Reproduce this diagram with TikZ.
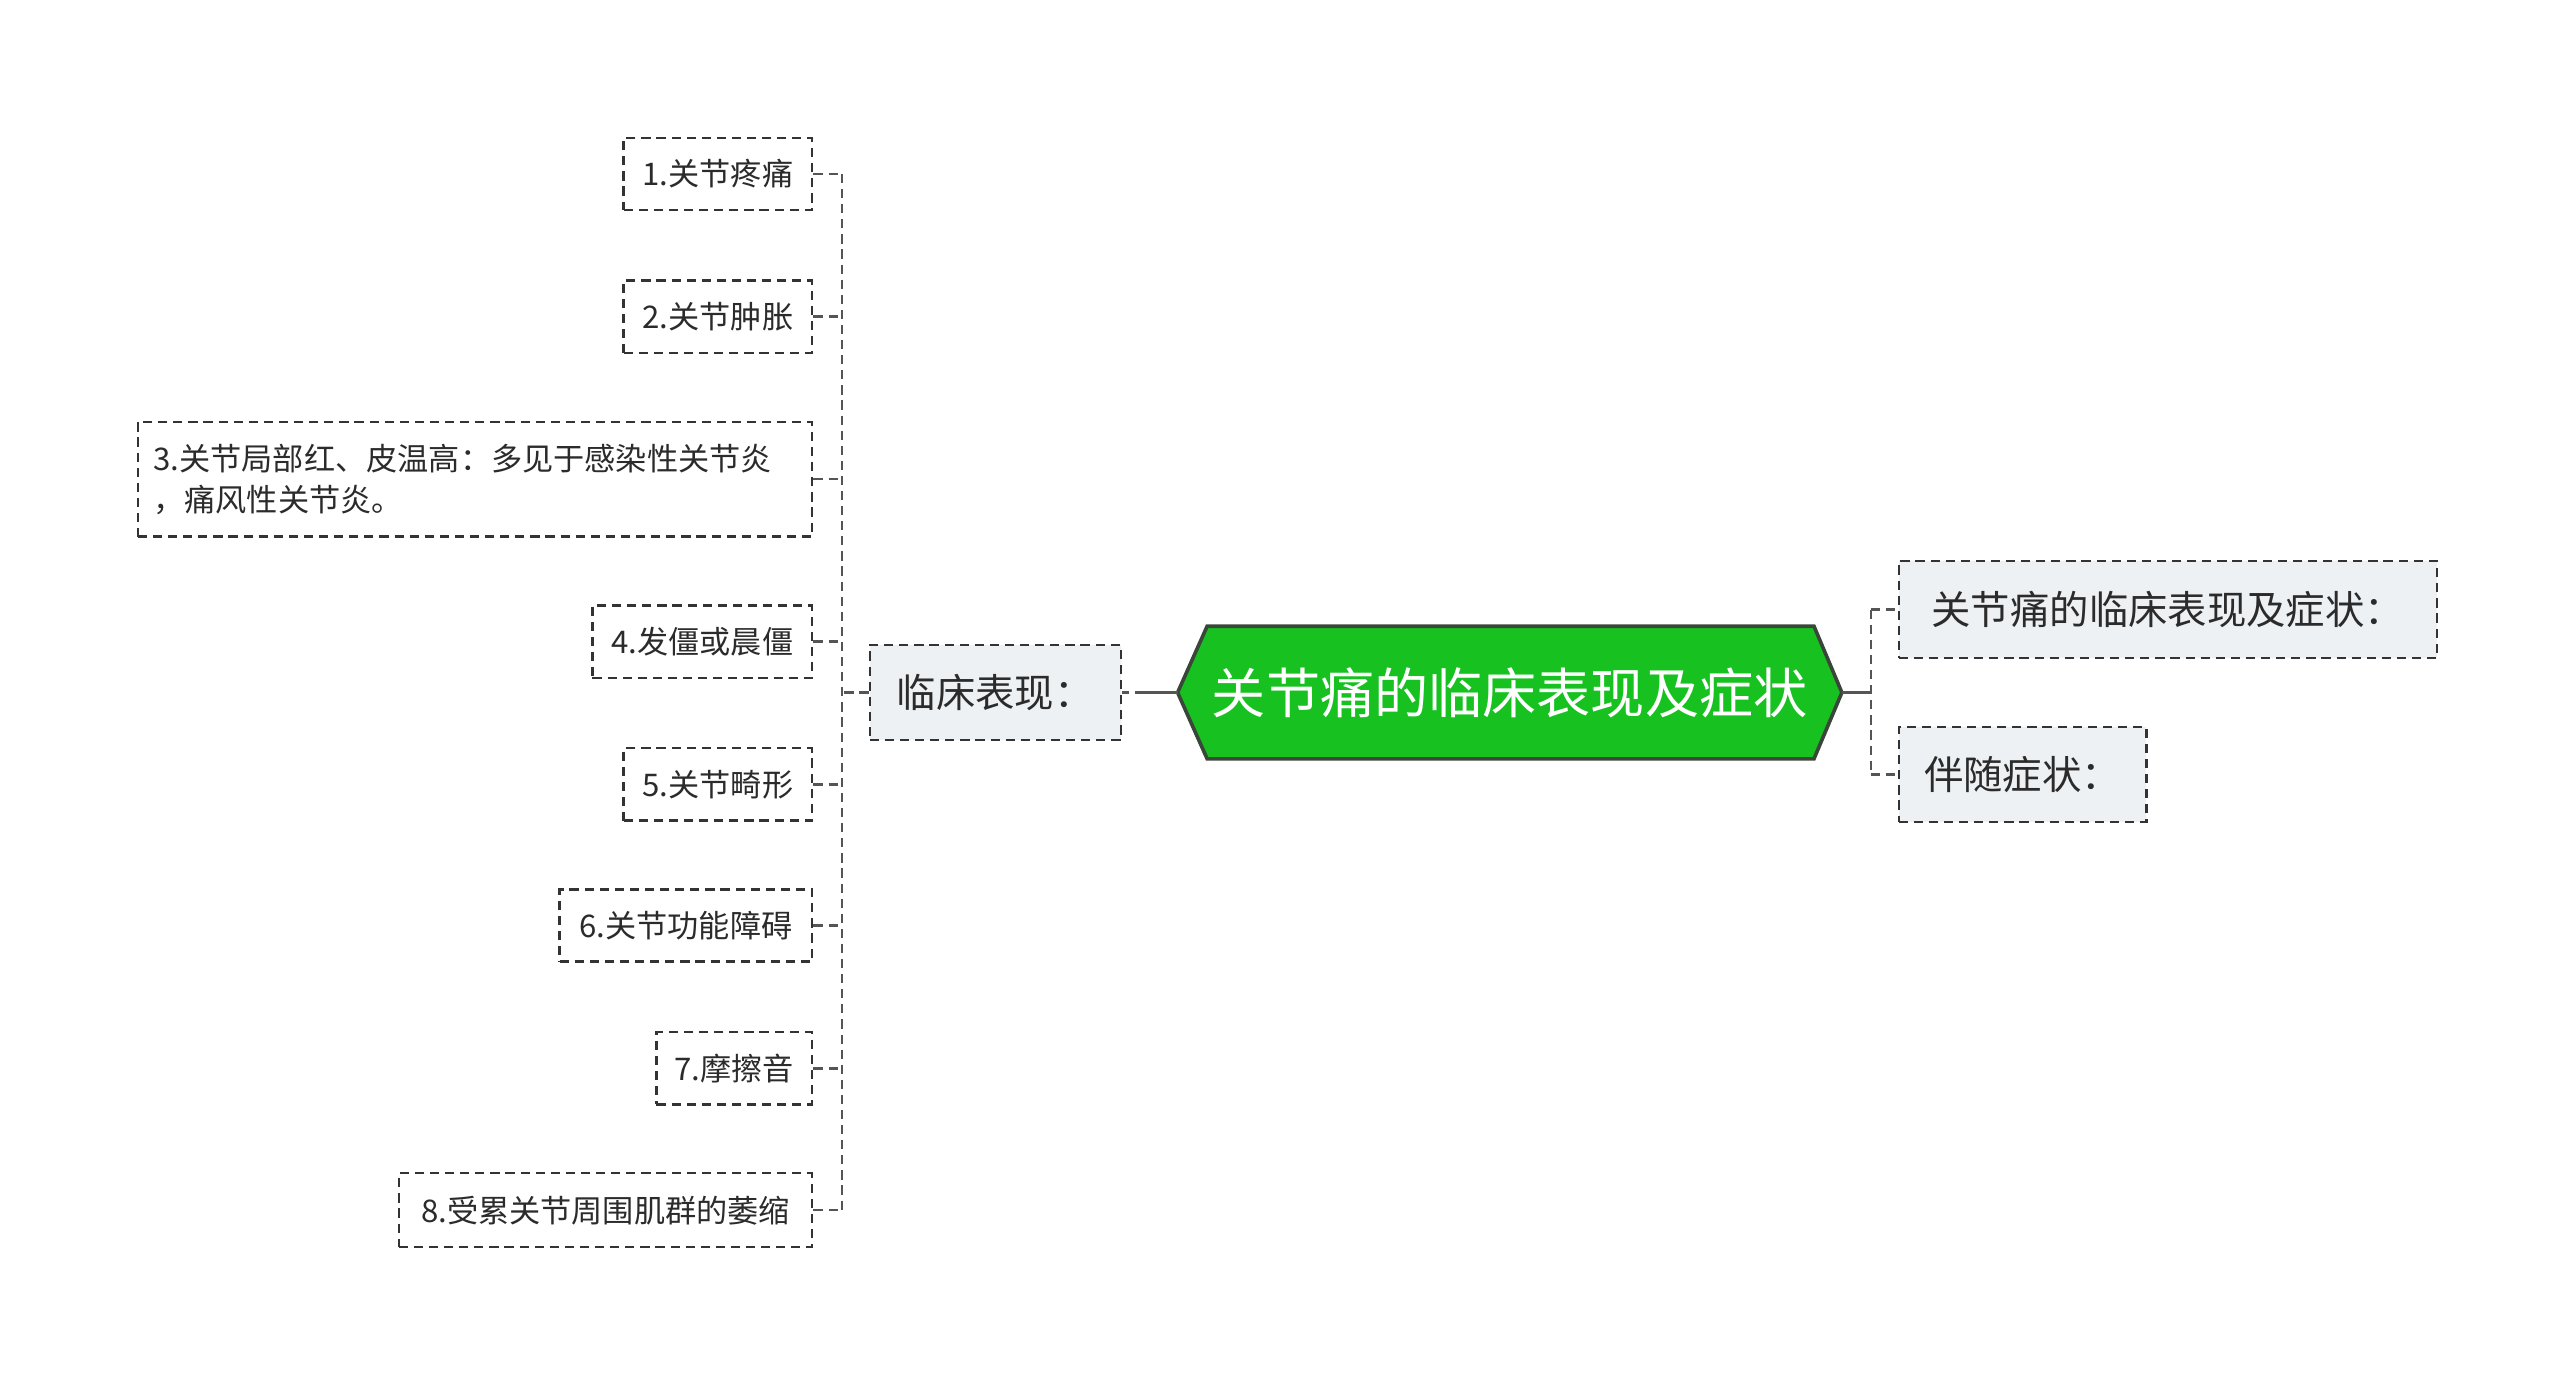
\documentclass[tikz,border=0pt]{standalone}
\usepackage{fontspec}
\newfontfamily\cjk{Noto Sans CJK SC}
\usetikzlibrary{calc}
\definecolor{rootgreen}{HTML}{17C220}
\definecolor{rootedge}{HTML}{3A463A}
\definecolor{boxfill}{HTML}{EEF1F4}
\definecolor{edgegray}{HTML}{333333}
\definecolor{linegray}{HTML}{555555}
\definecolor{txt}{HTML}{2B2B2B}
\begin{document}
\begin{tikzpicture}[x=0.5pt,y=-0.5pt,
  dsh/.style={dash pattern=on 2.8pt off 1.8pt},
  subbox/.style={draw=edgegray, line width=0.7pt, dsh, fill=boxfill, inner sep=2pt,
     font=\cjk\fontsize{12pt}{14pt}\selectfont, text=txt, anchor=center},
  leafbox/.style={draw=edgegray, line width=0.7pt, dsh, inner sep=2pt,
     font=\cjk\fontsize{9.5pt}{12.5pt}\selectfont, text=txt, minimum height=22pt, anchor=center},
  conn/.style={draw=linegray, line width=0.75pt, dsh},
  solidconn/.style={draw=linegray, line width=1pt}]
\useasboundingbox (0,0) rectangle (1560,839.7);

% root
\node[font=\cjk\fontsize{16.5pt}{19pt}\selectfont, text=white, minimum width=202pt, minimum height=40pt, inner sep=0pt] (root) at (920,422) {};
\fill[rootgreen, draw=rootedge, line width=1.1pt]
  (root.west) -- ($(root.north west)+(18,0)$) -- ($(root.north east)+(-17,0)$) -- (root.east)
  -- ($(root.south east)+(-17,0)$) -- ($(root.south west)+(18,0)$) -- cycle;
\node[font=\cjk\fontsize{16.5pt}{19pt}\selectfont, text=white, inner sep=0pt] (roottext) at (root.center) {关节痛的临床表现及症状};

% level 1
\node[subbox, minimum width=76.5pt, minimum height=29pt] (lc) at (606.5,422) {临床表现：};
\node[subbox, minimum width=164pt, minimum height=29.5pt] (r1) at (1321,371.5) {关节痛的临床表现及症状：};
\node[subbox, minimum width=75.5pt, minimum height=29pt] (r2) at (1232.5,472) {伴随症状：};

% leaves
\node[leafbox, minimum width=57.5pt] (c1) at (437.5,106) {1.关节疼痛};
\node[leafbox, minimum width=57.5pt] (c2) at (437.5,193) {2.关节肿胀};
\node[leafbox, minimum height=35pt, text width=196pt, inner xsep=4.75pt, align=left] (c3) at (289.5,292) {3.关节局部红、皮温高：多见于感染性关节炎\\，痛风性关节炎。};
\node[leafbox, minimum width=67pt] (c4) at (428,391) {4.发僵或晨僵};
\node[leafbox, minimum width=57.5pt] (c5) at (437.5,478) {5.关节畸形};
\node[leafbox, minimum width=77pt] (c6) at (418,564) {6.关节功能障碍};
\node[leafbox, minimum width=47.5pt] (c7) at (447.5,651) {7.摩擦音};
\node[leafbox, minimum width=126pt, minimum height=22.5pt] (c8) at (369,737.5) {8.受累关节周围肌群的萎缩};

% junctions
\coordinate (lj) at (513,422);
\coordinate (lm) at (697,422);
\coordinate (rj) at (1140,422);

% left connectors
\draw[solidconn] (root.west) -- (lm);
\draw[conn] (lm) -- (lc.east);
\draw[conn] (lc.west) -- (lj);
\draw[conn] (c1.east -| lj) -- (c8.east -| lj);
\foreach \c in {c1,c2,c3,c4,c5,c6,c7,c8}{
  \draw[conn] (\c.east) -- (\c.east -| lj);
}

% right connectors
\draw[solidconn] (root.east) -- (rj);
\draw[conn] (r1.west -| rj) -- (r2.west -| rj);
\draw[conn] (r1.west -| rj) -- (r1.west);
\draw[conn] (r2.west -| rj) -- (r2.west);
\end{tikzpicture}
\end{document}
